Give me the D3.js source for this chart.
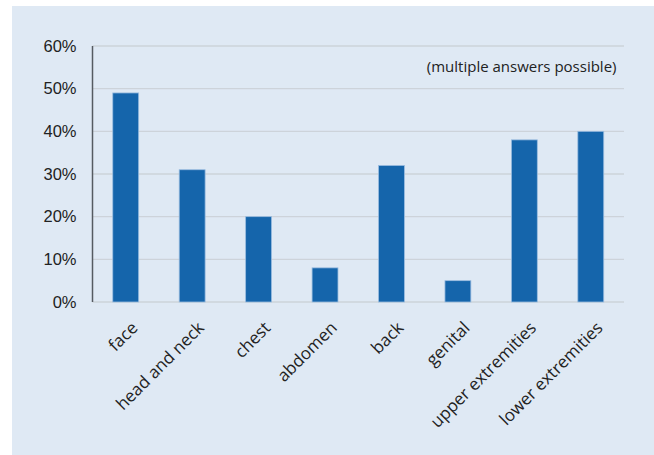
<!DOCTYPE html>
<html>
<head>
<meta charset="utf-8">
<script src="https://cdn.jsdelivr.net/npm/d3@7"></script>
<style>
  body { margin: 0; background: #fff; }
  svg { display: block; font-family: "Open Sans", "Noto Sans", sans-serif; }
</style>
</head>
<body>
<div id="chart"></div>
<script>
const categories = ['face', 'head and neck', 'chest', 'abdomen', 'back', 'genital', 'upper extremities', 'lower extremities'];
const values = [49, 31, 20, 8, 32, 5, 38, 40];
const yTicks = [0, 10, 20, 30, 40, 50, 60];
const note = '(multiple answers possible)';

const width = 654, height = 455;
const margin = { top: 46, right: 30, bottom: 153, left: 92.5 };
const iw = width - margin.left - margin.right;
const ih = height - margin.top - margin.bottom;

const svg = d3.select('#chart').append('svg')
    .attr('width', width).attr('height', height);

// light blue panel
svg.append('rect')
    .attr('x', 12).attr('y', 6)
    .attr('width', width - 12).attr('height', height - 6)
    .attr('fill', '#dfe9f4');

const g = svg.append('g').attr('transform', `translate(${margin.left},${margin.top})`);

const x = d3.scaleBand().domain(categories).range([0, iw]).paddingInner(0.61).paddingOuter(0.305);
const y = d3.scaleLinear().domain([0, 60]).range([ih, 0]);

// gridlines
g.append('g').selectAll('line').data(yTicks).enter().append('line')
    .attr('x1', 0).attr('x2', iw)
    .attr('y1', (d) => y(d)).attr('y2', (d) => y(d))
    .attr('stroke', '#cdd3da').attr('stroke-width', 1.3);

// y axis
g.append('g')
    .call(d3.axisLeft(y).tickValues(yTicks).tickSize(0).tickPadding(16).tickFormat((d) => d + '%'))
    .call((sel) => sel.select('.domain').remove())
    .call((sel) => sel.selectAll('text').attr('fill', '#222').style('font-size', '16.5px'));

g.append('line')
    .attr('x1', 0).attr('x2', 0).attr('y1', y(60)).attr('y2', y(0))
    .attr('stroke', '#555b61').attr('stroke-width', 1.5);

// bars
g.selectAll('rect.bar').data(values).enter().append('rect')
    .attr('class', 'bar')
    .attr('x', (d, i) => x(categories[i]))
    .attr('y', (d) => y(d))
    .attr('width', x.bandwidth())
    .attr('height', (d) => y(0) - y(d))
    .attr('fill', '#1565ab')
    .attr('stroke', '#9bbde0').attr('stroke-width', 0.8);

// x labels, rotated
g.selectAll('text.cat').data(categories).enter().append('text')
    .attr('class', 'cat')
    .attr('transform', (d) => `translate(${x(d) + x.bandwidth() / 2 + 13},${ih + 27}) rotate(-45)`)
    .attr('text-anchor', 'end')
    .attr('fill', '#222')
    .style('font-size', '17px')
    .text((d) => d);

// note
g.append('text')
    .attr('x', 524).attr('y', y(55) + 5)
    .attr('text-anchor', 'end')
    .attr('fill', '#222')
    .style('font-size', '15px')
    .text(note);
</script>
</body>
</html>
